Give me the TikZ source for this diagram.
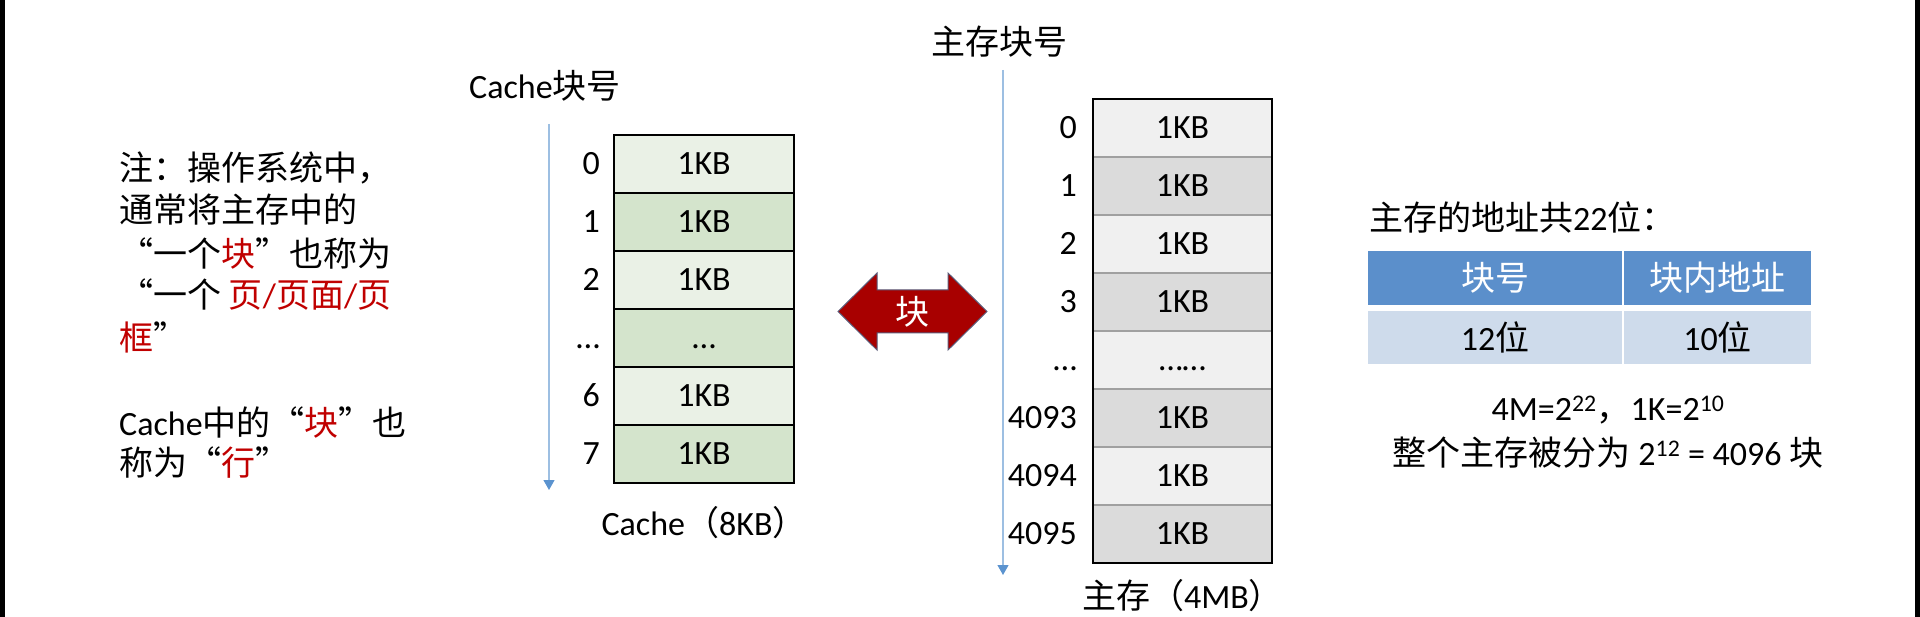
\documentclass[tikz,border=0pt]{standalone}
\usepackage{fontspec}
\usepackage{xcolor}
\setmainfont{Carlito}
\newfontfamily\cjk[CharacterWidth=Full]{Noto Sans CJK SC}
\usetikzlibrary{positioning,arrows.meta}
\definecolor{clight}{HTML}{EAF1E6}
\definecolor{cdark}{HTML}{D4E4CC}
\definecolor{mlight}{HTML}{F0F0F0}
\definecolor{mdark}{HTML}{DBDBDB}
\definecolor{sepgray}{HTML}{A0A0A0}
\definecolor{axisblue}{HTML}{9DBFE2}
\definecolor{tipblue}{HTML}{5B93CF}
\definecolor{notered}{HTML}{C00000}
\definecolor{arrowred}{HTML}{A80000}
\definecolor{arrowedge}{HTML}{5A5A78}
\definecolor{hdrblue}{HTML}{5B8FCB}
\definecolor{rowblue}{HTML}{CEDBEB}
\newcommand{\hl}[1]{\textcolor{notered}{#1}}
\tikzset{
	txt/.style={font=\fontsize{34}{40}\selectfont, inner sep=0pt},
	num/.style={txt, text height=21pt, text depth=0pt},
	cblk/.style={num, draw=black, line width=2pt, minimum width=180pt, minimum height=58pt, outer sep=0pt},
	mblk/.style={num, draw=sepgray, line width=1.5pt, minimum width=179pt, minimum height=58pt, outer sep=0pt},
	hdr/.style={txt, fill=hdrblue, text=white, minimum height=54pt, outer sep=0pt},
	row/.style={txt, fill=rowblue, minimum height=53pt, outer sep=0pt},
	axis/.style={draw=axisblue, line width=1.2pt, -{Triangle[width=11pt,length=10pt,color=tipblue]}}
}
\begin{document}
\begin{tikzpicture}[x=1pt,y=1pt]
			\useasboundingbox (0,0) rectangle (1920,-617);
			\fill (0,0) rectangle (5,-617);
			\fill (1915,0) rectangle (1920,-617);
			\node[txt,anchor=west] (note1) at (119,-168) {\cjk 注：操作系统中，};
			\node[txt,anchor=west] (note2) at (119,-210) {\cjk 通常将主存中的};
			\node[txt,anchor=west] (note3) at (119,-253) {\cjk “一个\hl{块}”也称为};
			\node[txt,anchor=west] (note4) at (119,-295) {{\cjk “一个} \hl{{\cjk 页}/{\cjk 页面}/{\cjk 页}}};
			\node[txt,anchor=west] (note5) at (119,-337) {\cjk \hl{框}”};
			\node[txt,anchor=west] (note6) at (119,-422) {Cache{\cjk 中的“\hl{块}”也}};
			\node[txt,anchor=west] (note7) at (119,-463) {\cjk 称为“\hl{行}”};
			\node[txt,anchor=west] (ctitle) at (469,-86) {Cache{\cjk 块号}};
			\coordinate (ctop) at (549,-124);
			\coordinate (cend) at (549,-490);
			\draw[axis] (ctop) -- (cend);
			\node[cblk,fill=clight] (c0) at (704,-164) {1KB};
			\node[cblk,fill=cdark,below=0pt of c0] (c1) {1KB};
			\node[cblk,fill=clight,below=0pt of c1] (c2) {1KB};
			\node[cblk,fill=cdark,below=0pt of c2] (c3) {…};
			\node[cblk,fill=clight,below=0pt of c3] (c4) {1KB};
			\node[cblk,fill=cdark,below=0pt of c4] (c5) {1KB};
			\node[num,left=14pt of c0] (cn0) {0};
			\node[num,left=14pt of c1] (cn1) {1};
			\node[num,left=14pt of c2] (cn2) {2};
			\node[num,left=14pt of c3] (cn3) {…};
			\node[num,left=14pt of c4] (cn4) {6};
			\node[num,left=14pt of c5] (cn5) {7};
			\node[txt,below=23pt of c5] (cname) {Cache{\cjk （}8KB{\cjk ）}};
			\draw[fill=arrowred,draw=arrowedge,line width=1pt] (838,-311.5) -- (877,-273) -- (877,-290) -- (948,-290) -- (948,-273) -- (987,-311.5) -- (948,-350) -- (948,-333) -- (877,-333) -- (877,-350) -- cycle;
			\node[txt,text=white] (blk) at (912,-312) {\cjk 块};
			\node[txt,anchor=west] (mtitle) at (931,-42) {\cjk 主存块号};
			\coordinate (mtop) at (1003,-70);
			\coordinate (mend) at (1003,-575);
			\draw[axis] (mtop) -- (mend);
			\node[mblk,fill=mlight] (m0) at (1182.5,-128) {1KB};
			\node[mblk,fill=mdark,below=0pt of m0] (m1) {1KB};
			\node[mblk,fill=mlight,below=0pt of m1] (m2) {1KB};
			\node[mblk,fill=mdark,below=0pt of m2] (m3) {1KB};
			\node[mblk,fill=mlight,below=0pt of m3] (m4) {……};
			\node[mblk,fill=mdark,below=0pt of m4] (m5) {1KB};
			\node[mblk,fill=mlight,below=0pt of m5] (m6) {1KB};
			\node[mblk,fill=mdark,below=0pt of m6] (m7) {1KB};
			\draw[line width=2pt] (m0.north west) rectangle (m7.south east);
			\node[num,left=16pt of m0] (mn0) {0};
			\node[num,left=16pt of m1] (mn1) {1};
			\node[num,left=16pt of m2] (mn2) {2};
			\node[num,left=16pt of m3] (mn3) {3};
			\node[num,left=16pt of m4] (mn4) {…};
			\node[num,left=16pt of m5] (mn5) {4093};
			\node[num,left=16pt of m6] (mn6) {4094};
			\node[num,left=16pt of m7] (mn7) {4095};
			\node[txt,below=16pt of m7] (mname) {{\cjk 主存（}4MB{\cjk ）}};
			\node[txt,anchor=west] (addr) at (1369,-217) {{\cjk 主存的地址共}22{\cjk 位：}};
			\node[hdr,minimum width=254pt] (h1) at (1495,-278) {\cjk 块号};
			\node[hdr,minimum width=187pt,right=2pt of h1] (h2) {\cjk 块内地址};
			\node[row,minimum width=254pt,below=6pt of h1] (r1) {12{\cjk 位}};
			\node[row,minimum width=187pt,below=6pt of h2] (r2) {10{\cjk 位}};
			\node[txt] (eq1) at (1608,-410) {4M=2\textsuperscript{22}{\cjk ，}1K=2\textsuperscript{10}};
			\node[txt] (eq2) at (1608,-453) {{\cjk 整个主存被分为} 2\textsuperscript{12} = 4096 {\cjk 块}};
		\end{tikzpicture}
\end{document}
